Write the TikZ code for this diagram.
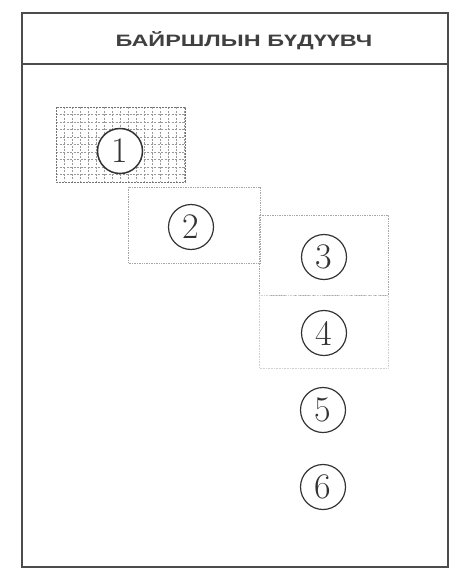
\documentclass[tikz,border=0pt]{standalone}
\usepackage{fontspec}
\newfontfamily\titlefont{Liberation Sans}
\begin{document}
\begin{tikzpicture}[x=1pt,y=-1pt,
  frameline/.style={draw=black!70,line width=1.4pt},
  zone/.style={draw=black!35,densely dotted,line width=0.7pt},
  faintzone/.style={draw=black!18,densely dotted,line width=0.6pt},
  gridline/.style={black!40,dash pattern=on 2pt off 1.5pt,line width=0.6pt},
  num/.style={circle,draw=black!80,line width=1.2pt,minimum size=45pt,inner sep=0pt,font=\fontsize{36}{36}\selectfont,text=black!80}]
\useasboundingbox (0,0) rectangle (460,573);
% outer frame
\draw[frameline] (22,13) rectangle (448,567);
\draw[frameline] (22,64) -- (448,64);
\node[font=\titlefont\bfseries\fontsize{16.5}{16.5}\selectfont,text=black!75] (title) at (244,41) {\scalebox{1.42}[1]{БАЙРШЛЫН БҮДҮҮВЧ}};
% zone 1 with grid
\foreach \gx in {64,72,...,184} \draw[gridline] (\gx,107) -- (\gx,182);
\foreach \gy in {114.5,122,...,181} \draw[gridline] (56,\gy) -- (185,\gy);
\draw[draw=black!55,dash pattern=on 2pt off 1pt,line width=1pt] (56,107) rectangle (185,182);
% zone 2
\draw[zone] (128,187) rectangle (260,263);
% zone 3
\draw[zone] (259,215) rectangle (388,295);
% zone 4
\draw[faintzone] (259,295) rectangle (388,368);
% numbered circles
\node[num,fill=white,line width=1.5pt] (n1) at (120,151) {1};
\node[num] (n2) at (191,227) {2};
\node[num] (n3) at (324,257) {3};
\node[num] (n4) at (324,333) {4};
\node[num] (n5) at (323,410) {5};
\node[num] (n6) at (323,487) {6};
\end{tikzpicture}
\end{document}
